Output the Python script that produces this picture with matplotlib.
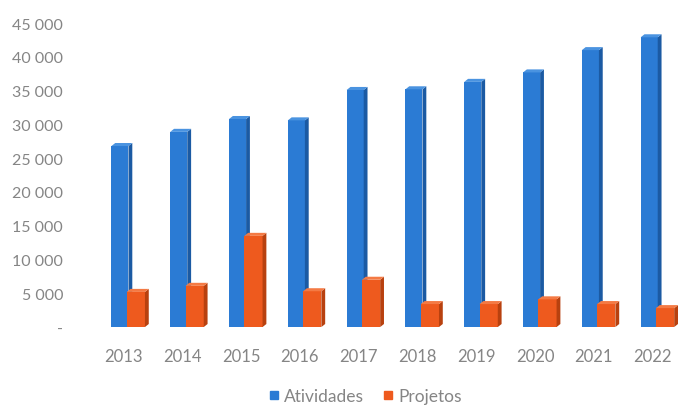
import matplotlib.pyplot as plt
from matplotlib.patches import Polygon
from matplotlib.lines import Line2D

anos = ['2013', '2014', '2015', '2016', '2017', '2018', '2019', '2020', '2021', '2022']
atividades = [26800, 28900, 30800, 30600, 35100, 35200, 36300, 37700, 41000, 42900]
projetos = [5200, 6100, 13500, 5300, 7000, 3400, 3400, 4100, 3400, 2800]

azul, azul_lado, azul_topo = '#2b7bd4', '#1b5aa3', '#4a93e0'
laranja, laranja_lado, laranja_topo = '#ee5a1e', '#b8410f', '#f47a44'
cinza = '#858585'

plt.rcParams['font.family'] = ['Lato', 'DejaVu Sans']

fig = plt.figure(figsize=(6.78, 4.06), dpi=100)
ax = fig.add_axes([0.1032, 0.192, 0.8968, 0.783])

dx, dy = 0.065, 450


def barras_3d(pos, vals, w, cor, lado, topo):
    ax.bar(pos, vals, width=w, color=cor, linewidth=0, zorder=2)
    for x, v in zip(pos, vals):
        r = x + w / 2
        l = x - w / 2
        ax.add_patch(Polygon([(r, 0), (r + dx, dy), (r + dx, v + dy), (r, v)],
                             closed=True, color=lado, linewidth=0, zorder=2))
        ax.add_patch(Polygon([(l, v), (l + dx, v + dy), (r + dx, v + dy), (r, v)],
                             closed=True, color=topo, linewidth=0, zorder=2))


x = list(range(len(anos)))
barras_3d([i - 0.06 for i in x], atividades, 0.29, azul, azul_lado, azul_topo)
barras_3d([i + 0.21 for i in x], projetos, 0.31, laranja, laranja_lado, laranja_topo)

ax.set_xlim(-0.91, 9.43)
ax.set_ylim(0, 47070)
ax.set_xticks(x)
ax.set_xticklabels(anos)
yt = list(range(0, 45001, 5000))
ax.set_yticks(yt)
ax.set_yticklabels(['-'] + [f'{v // 1000} 000' for v in yt[1:]])
ax.tick_params(axis='both', length=0, colors=cinza)
ax.tick_params(axis='x', pad=15, labelsize=12)
ax.tick_params(axis='y', pad=5, labelsize=11.5)
for s in ax.spines.values():
    s.set_visible(False)

handles = [Line2D([], [], marker='s', linestyle='', color=azul, markersize=6),
           Line2D([], [], marker='s', linestyle='', color=laranja, markersize=6)]
fig.legend(handles, ['Atividades', 'Projetos'], loc='lower center',
           bbox_to_anchor=(0.535, -0.035), ncol=2, frameon=False,
           fontsize=12.5, labelcolor=cinza, handletextpad=0.0,
           handlelength=1.2, columnspacing=0.8)

fig.savefig('out.png', dpi=100)
